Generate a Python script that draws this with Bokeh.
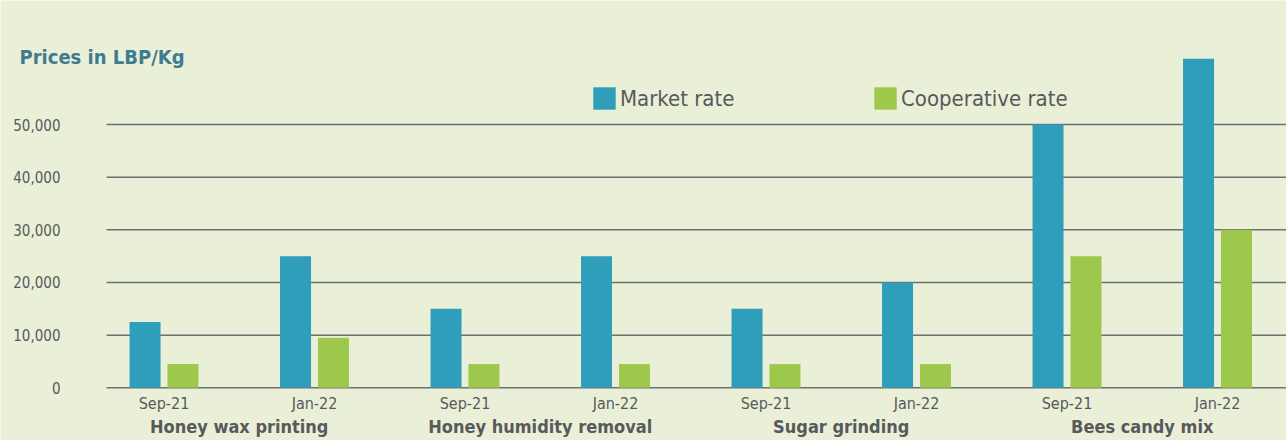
from bokeh.plotting import figure
from bokeh.models import (Range1d, FixedTicker, LinearAxis, Legend, LegendItem,
                          Label, ColumnDataSource, NumeralTickFormatter)
from bokeh.embed import file_html
from bokeh.resources import INLINE

# ---- data ----
groups = ["Honey wax printing", "Honey humidity removal", "Sugar grinding", "Bees candy mix"]
periods = ["Sep-21", "Jan-22"]
market_rate = [12500, 25000, 15000, 25000, 15000, 20000, 50000, 62500]
coop_rate = [4500, 9500, 4500, 4500, 4500, 4500, 25000, 30000]
y_ticks = [0, 10000, 20000, 30000, 40000, 50000]

# ---- styles ----
BG = "#EAF0D8"
BLUE = "#2E9EBA"
GREEN = "#9DC84B"
TXT = "#58595B"
TITLE = "#3F7B8F"
GRID = "#6E6F71"
FONT = "'DejaVu Sans Condensed', 'Liberation Sans Narrow', sans-serif"

W, H = 1286, 440
PX_PER_CAT = 150.5
X0 = -163.5 / PX_PER_CAT            # left edge of the frame in category units
X1 = X0 + W / PX_PER_CAT
GRID_X0 = X0 + 106 / PX_PER_CAT     # where the gridlines / y axis start
Y_PER_PX = 50000 / 263.3
Y1 = 387.3 * Y_PER_PX
Y0 = (387.3 - H) * Y_PER_PX

n = len(market_rate)
idx = list(range(n))
off = 0.126
bw = 0.206
src = ColumnDataSource(dict(
    xm=[i - off for i in idx],
    xc=[i + off for i in idx],
    market=market_rate,
    coop=coop_rate,
))

p = figure(width=W, height=H, output_backend="svg", toolbar_location=None,
           x_range=Range1d(X0, X1), y_range=Range1d(Y0, Y1),
           min_border_left=0, min_border_right=0, min_border_top=0, min_border_bottom=0,
           background_fill_color=BG, border_fill_color=BG, outline_line_color=None)
p.xgrid.grid_line_color = None
p.ygrid.grid_line_color = None

# horizontal gridlines (start right of the tick labels)
p.segment(x0=[GRID_X0] * len(y_ticks), x1=[X1] * len(y_ticks), y0=y_ticks, y1=y_ticks,
          line_color=GRID, line_width=1.5)

rm = p.vbar(x="xm", top="market", width=bw, source=src, fill_color=BLUE, line_color=None)
rc = p.vbar(x="xc", top="coop", width=bw, source=src, fill_color=GREEN, line_color=None)

# y axis drawn inside the frame at the grid start
yax = p.yaxis[0]
yax.fixed_location = GRID_X0
yax.ticker = FixedTicker(ticks=y_ticks)
yax.formatter = NumeralTickFormatter(format="0,0")
yax.axis_line_color = None
yax.major_tick_line_color = None
yax.minor_tick_line_color = None
yax.major_label_standoff = 40
yax.major_label_text_font = FONT
yax.major_label_text_font_size = "15px"
yax.major_label_text_color = TXT

# x axis: periods
xax = p.xaxis[0]
xax.fixed_location = 0
xax.ticker = FixedTicker(ticks=idx)
xax.major_label_overrides = {i: periods[i % 2] for i in idx}
xax.axis_line_color = None
xax.major_tick_line_color = None
xax.minor_tick_line_color = None
xax.major_label_standoff = 0
xax.major_label_text_font = FONT
xax.major_label_text_font_size = "16px"
xax.major_label_text_color = TXT

# x axis: groups
gpos = [2 * g + 0.5 for g in range(len(groups))]
gax = LinearAxis(ticker=FixedTicker(ticks=gpos), fixed_location=0,
                 major_label_overrides={gpos[g]: groups[g] for g in range(len(groups))},
                 axis_line_color=None, major_tick_line_color=None, minor_tick_line_color=None,
                 major_label_standoff=22, major_label_text_font=FONT,
                 major_label_text_font_size="18px", major_label_text_font_style="bold",
                 major_label_text_color=TXT)
p.add_layout(gax, "below")

# title label
p.add_layout(Label(x=19, y=H - 68, x_units="screen", y_units="screen",
                   text="Prices in LBP/Kg", text_font=FONT, text_font_size="20px",
                   text_font_style="bold", text_color=TITLE))

# legends
for r, name, lx in [(rm, "Market rate", 590), (rc, "Cooperative rate", 871)]:
    lg = Legend(items=[LegendItem(label=name, renderers=[r])], location=(lx, H - 112),
                orientation="horizontal", padding=0, margin=0, spacing=0,
                glyph_width=28, glyph_height=28, label_standoff=2,
                label_text_font=FONT, label_text_font_size="22px",
                label_text_color=TXT, background_fill_alpha=0,
                border_line_color=None)
    p.add_layout(lg, "center")

open("out.html", "w").write(file_html(p, INLINE))
